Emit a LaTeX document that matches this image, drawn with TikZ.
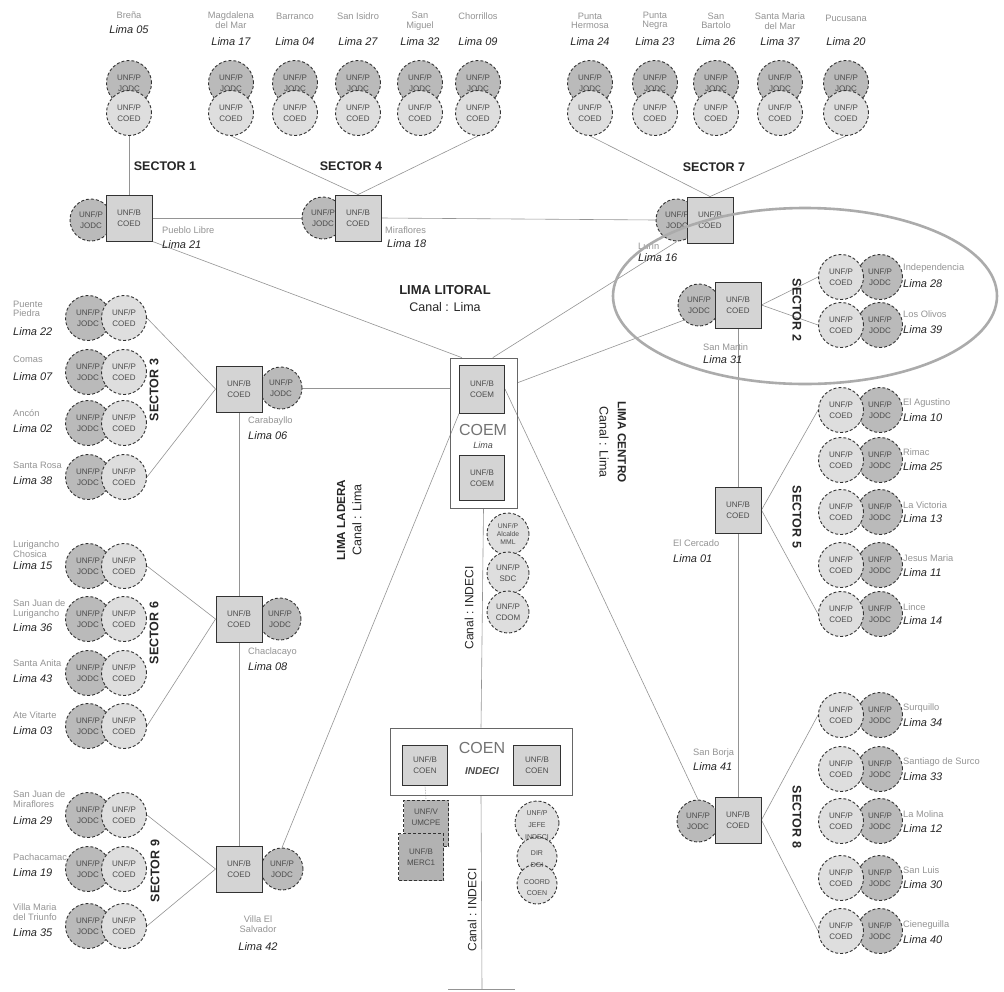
\documentclass[tikz,border=0pt]{standalone}
\usepackage{fontspec}
\setmainfont{Liberation Sans}
\usetikzlibrary{backgrounds}
\tikzset{
  circ/.style={circle, draw=black!80, densely dashed, line width=0.9pt, minimum size=45pt, inner sep=0pt, align=center, font=\fontsize{8}{10.5}\selectfont, text=black!70},
  jodc/.style={circ, fill=black!27},
  coed/.style={circ, fill=black!13},
  hubsq/.style={rectangle, draw=black!80, line width=0.9pt, fill=black!17, minimum width=46pt, minimum height=46pt, inner sep=0pt, align=center, font=\fontsize{8}{10.5}\selectfont, text=black!70},
  darksq/.style={hubsq, fill=black!30, densely dashed},
  circtext/.style={align=center, inner sep=0pt, font=\fontsize{7}{12}\selectfont, text=black!70},
  link/.style={draw=black!42, line width=0.6pt},
  place/.style={font=\fontsize{9.3}{9.5}\selectfont, text=black!42, align=center, inner sep=0pt},
  lima/.style={font=\fontsize{11}{12}\selectfont\itshape, text=black!85, inner sep=0pt},
  sect/.style={font=\fontsize{12.5}{14}\selectfont\bfseries, text=black!85, inner sep=0pt},
  bigbold/.style={font=\fontsize{12}{14}\selectfont\bfseries, text=black!85, inner sep=0pt},
  canal/.style={font=\fontsize{12.5}{14}\selectfont, text=black!85, inner sep=0pt},
  box/.style={draw=black!60, line width=0.7pt, inner sep=0pt},
}
\newcommand{\toppair}[2]{%
  \node[jodc] (#1j) at (#2,83) {UNF/P\\JODC};
  \node[coed] (#1c) at (#2,113) {UNF/P\\COED};}
\newcommand{\lpair}[2]{%
  \node[jodc] (#1j) at (88,#2) {UNF/P\\JODC};
  \node[coed] (#1c) at (124,#2) {UNF/P\\COED};}
\newcommand{\rpair}[2]{%
  \node[jodc] (#1j) at (880,#2) {UNF/P\\JODC};
  \node[coed] (#1c) at (841,#2) {UNF/P\\COED};}
\newcommand{\llab}[5]{%
  \node[place, anchor=west, align=left] (#1N) at (13,#2) {#4};
  \node[lima, anchor=west] (#1L) at (13,#3) {#5};}
\newcommand{\rlab}[5]{%
  \node[place, anchor=west, align=left] (#1N) at (903,#2) {#4};
  \node[lima, anchor=west] (#1L) at (903,#3) {#5};}
\begin{document}
\begin{tikzpicture}[x=1pt,y=-1pt]
\useasboundingbox (0,0) rectangle (1004,991);

% ---------------- top row ----------------
\toppair{bre}{129}
\toppair{mag}{231}
\toppair{bar}{295}
\toppair{sis}{358}
\toppair{smi}{420}
\toppair{cho}{478}
\toppair{phe}{590}
\toppair{pne}{655}
\toppair{sba}{716}
\toppair{smm}{780}
\toppair{puc}{846}

\node[place] (breN) at (129,15) {Breña};
\node[lima] (breL) at (129,30) {Lima 05};
\node[place] (magN) at (231,20) {Magdalena\\del Mar};
\node[lima] (magL) at (231,42) {Lima 17};
\node[place] (barN) at (295,16) {Barranco};
\node[lima] (barL) at (295,42) {Lima 04};
\node[place] (sisN) at (358,16) {San Isidro};
\node[lima] (sisL) at (358,42) {Lima 27};
\node[place] (smiN) at (420,21) {San\\Miguel};
\node[lima] (smiL) at (420,42) {Lima 32};
\node[place] (choN) at (478,16) {Chorrillos};
\node[lima] (choL) at (478,42) {Lima 09};
\node[place] (pheN) at (590,21) {Punta\\Hermosa};
\node[lima] (pheL) at (590,42) {Lima 24};
\node[place] (pneN) at (655,21) {Punta\\Negra};
\node[lima] (pneL) at (655,42) {Lima 23};
\node[place] (sbaN) at (716,21) {San\\Bartolo};
\node[lima] (sbaL) at (716,42) {Lima 26};
\node[place] (smmN) at (780,21) {Santa Maria\\del Mar};
\node[lima] (smmL) at (780,42) {Lima 37};
\node[place] (pucN) at (846,18) {Pucusana};
\node[lima] (pucL) at (846,42) {Lima 20};

\node[sect] (sec1) at (165,166) {SECTOR 1};
\node[sect] (sec4) at (351,166) {SECTOR 4};
\node[sect] (sec7) at (714,167) {SECTOR 7};

% hubs of the top sectors
\node[jodc, minimum size=42pt] (s1j) at (91,220) {UNF/P\\JODC};
\node[hubsq] (s1) at (129,218) {UNF/B\\COED};
\node[place, anchor=west] (s1N) at (162,230) {Pueblo Libre};
\node[lima, anchor=west] (s1L) at (162,245) {Lima 21};

\node[jodc, minimum size=42pt] (s4j) at (323,218) {UNF/P\\JODC};
\node[hubsq] (s4) at (358,218) {UNF/B\\COED};
\node[place, anchor=west] (s4N) at (385,230) {Miraflores};
\node[lima, anchor=west] (s4L) at (387,244) {Lima 18};

\node[jodc, minimum size=42pt] (s7j) at (677,220) {UNF/P\\JODC};
\node[hubsq] (s7) at (710,220) {UNF/B\\COED};
\node[place, anchor=west] (s7N) at (638,246) {Lurín};
\node[lima, anchor=west] (s7L) at (638,258) {Lima 16};

\node[bigbold, font=\fontsize{13}{15}\selectfont\bfseries] (lit) at (445,290) {LIMA LITORAL};
\node[canal] (litc) at (445,307) {Canal : Lima};

% ---------------- sector 2 ----------------
\node[jodc, minimum size=42pt] (s2j) at (699,305) {UNF/P\\JODC};
\node[hubsq] (s2) at (738,305) {UNF/B\\COED};
\node[place, anchor=west] (s2N) at (703,347) {San Martin};
\node[lima, anchor=west] (s2L) at (703,360) {Lima 31};
\node[sect, rotate=-90] (sec2) at (797,310) {SECTOR 2};
\rpair{ind}{277}
\rpair{oli}{325}
\rlab{ind}{268}{284}{Independencia}{Lima 28}
\rlab{oli}{314}{330}{Los Olivos}{Lima 39}

% ---------------- sector 5 ----------------
\node[hubsq] (s5) at (738,510) {UNF/B\\COED};
\node[place, anchor=west] (s5N) at (673,543) {El Cercado};
\node[lima, anchor=west] (s5L) at (673,559) {Lima 01};
\node[sect, rotate=-90] (sec5) at (797,517) {SECTOR 5};
\rpair{agu}{410}
\rpair{rim}{460}
\rpair{vic}{512}
\rpair{jes}{565}
\rpair{lin}{614}
\rlab{agu}{403}{418}{El Agustino}{Lima 10}
\rlab{rim}{452}{467}{Rimac}{Lima 25}
\rlab{vic}{505}{519}{La Victoria}{Lima 13}
\rlab{jes}{558}{573}{Jesus Maria}{Lima 11}
\rlab{lin}{607}{621}{Lince}{Lima 14}

% ---------------- sector 8 ----------------
\node[jodc, minimum size=42pt] (s8j) at (698,821) {UNF/P\\JODC};
\node[hubsq] (s8) at (738,820) {UNF/B\\COED};
\node[place, anchor=west] (s8N) at (693,753) {San Borja};
\node[lima, anchor=west] (s8L) at (693,767) {Lima 41};
\node[sect, rotate=-90] (sec8) at (797,817) {SECTOR 8};
\rpair{sur}{715}
\rpair{ssu}{769}
\rpair{mol}{821}
\rpair{slu}{878}
\rpair{cie}{931}
\rlab{sur}{708}{723}{Surquillo}{Lima 34}
\rlab{ssu}{762}{777}{Santiago de Surco}{Lima 33}
\rlab{mol}{814}{829}{La Molina}{Lima 12}
\rlab{slu}{870}{885}{San Luis}{Lima 30}
\rlab{cie}{925}{940}{Cieneguilla}{Lima 40}

% ---------------- sector 3 ----------------
\lpair{pp}{318}
\lpair{com}{372}
\lpair{anc}{423}
\lpair{sro}{477}
\llab{pp}{309}{332}{Puente\\Piedra}{Lima 22}
\llab{com}{359}{377}{Comas}{Lima 07}
\llab{anc}{413}{429}{Ancón}{Lima 02}
\llab{sro}{465}{481}{Santa Rosa}{Lima 38}
\node[jodc, minimum size=42pt] (s3j) at (281,388) {UNF/P\\JODC};
\node[hubsq] (s3) at (239,389) {UNF/B\\COED};
\node[place, anchor=west] (s3N) at (248,421) {Carabayllo};
\node[lima, anchor=west] (s3L) at (248,436) {Lima 06};
\node[sect, rotate=90] (sec3) at (154,390) {SECTOR 3};

% ---------------- sector 6 ----------------
\lpair{lch}{566}
\lpair{sjl}{619}
\lpair{san}{673}
\lpair{ate}{726}
\llab{lch}{549}{566}{Lurigancho\\Chosica}{Lima 15}
\llab{sjl}{609}{628}{San Juan de\\Lurigancho}{Lima 36}
\llab{san}{663}{679}{Santa Anita}{Lima 43}
\llab{ate}{715}{731}{Ate Vitarte}{Lima 03}
\node[jodc, minimum size=42pt] (s6j) at (280,619) {UNF/P\\JODC};
\node[hubsq] (s6) at (239,619) {UNF/B\\COED};
\node[place, anchor=west] (s6N) at (248,652) {Chaclacayo};
\node[lima, anchor=west] (s6L) at (248,667) {Lima 08};
\node[sect, rotate=90] (sec6) at (154,633) {SECTOR 6};

% ---------------- sector 9 ----------------
\lpair{sjm}{815}
\lpair{pac}{869}
\lpair{vmt}{926}
\llab{sjm}{799}{821}{San Juan de\\Miraflores}{Lima 29}
\llab{pac}{857}{873}{Pachacamac}{Lima 19}
\llab{vmt}{912}{933}{Villa Maria\\del Triunfo}{Lima 35}
\node[jodc, minimum size=42pt] (s9j) at (282,869) {UNF/P\\JODC};
\node[hubsq] (s9) at (239,869) {UNF/B\\COED};
\node[place] (s9N) at (258,924) {Villa El\\Salvador};
\node[lima] (s9L) at (258,947) {Lima 42};
\node[sect, rotate=90] (sec9) at (155,871) {SECTOR 9};

% ---------------- COEM ----------------
\node[box, minimum width=67pt, minimum height=150pt] (coem) at (483.5,433) {};
\node[hubsq, minimum width=45pt, minimum height=48pt] (coem1) at (482,389) {UNF/B\\COEM};
\node[font=\fontsize{16}{18}\selectfont, text=black!55, inner sep=0pt] (coemT) at (483,430) {COEM};
\node[font=\fontsize{9}{10}\selectfont\itshape, text=black!70, inner sep=0pt] (coemL) at (483,445) {Lima};
\node[hubsq, minimum width=45pt, minimum height=45pt] (coem2) at (482,478) {UNF/B\\COEM};

\node[coed, minimum size=42pt, font=\fontsize{6.8}{8}\selectfont] (alc) at (508,534) {UNF/P\\Alcalde\\MML};
\node[coed, minimum size=42pt] (sdc) at (508,573) {UNF/P\\SDC};
\node[coed, minimum size=42pt] (cdo) at (508,612) {UNF/P\\CDOM};

\node[canal, font=\fontsize{12}{14}\selectfont, rotate=90] (ci1) at (469,608) {Canal : INDECI};

\node[bigbold, font=\fontsize{11.7}{14}\selectfont\bfseries, rotate=90] (lad) at (341,520) {LIMA LADERA};
\node[canal, rotate=90] (ladc) at (357,520) {Canal : Lima};
\node[bigbold, font=\fontsize{11.7}{14}\selectfont\bfseries, rotate=-90] (cen) at (622,442) {LIMA CENTRO};
\node[canal, rotate=-90] (cenc) at (604,442) {Canal : Lima};

% ---------------- COEN ----------------
\node[box, minimum width=182pt, minimum height=67pt] (coen) at (481,761.5) {};
\node[hubsq, minimum width=45pt, minimum height=40pt] (coen1) at (425,765) {UNF/B\\COEN};
\node[hubsq, minimum width=47pt, minimum height=40pt] (coen2) at (537,765) {UNF/B\\COEN};
\node[font=\fontsize{16}{18}\selectfont, text=black!55, inner sep=0pt] (coenT) at (482,748) {COEN};
\node[font=\fontsize{10}{12}\selectfont\bfseries\itshape, text=black!70, inner sep=0pt] (coenI) at (482,771) {INDECI};

\node[darksq, minimum width=45pt, minimum height=46pt, text depth=12pt] (umc) at (426,823) {UNF/V\\UMCPE};
\node[darksq, minimum width=45pt, minimum height=47pt] (mer) at (421,857) {UNF/B\\MERC1};

\node[coed, minimum size=44pt] (jef) at (537,823) {};
\node[coed, minimum size=40pt] (dir) at (537,857) {};
\node[coed, minimum size=40pt] (cor) at (537,884) {};
\node[circtext] (jefT) at (537,825) {UNF/P\\JEFE\\INDECI};
\node[circtext] (dirT) at (537,859) {DIR\\DGI};
\node[circtext, font=\fontsize{7}{11}\selectfont] (corT) at (537,888) {COORD\\COEN};

\node[canal, font=\fontsize{12}{14}\selectfont, rotate=90] (ci2) at (472,910) {Canal : INDECI};
\coordinate (bot) at (482,989);
\coordinate (botL) at (448,989);
\coordinate (botR) at (515,989);

% ---------------- connectors ----------------
\begin{pgfonlayer}{background}
\fill[white] (0,0) rectangle (1004,991);
\draw[link] (brec.south) -- (s1.north);
\draw[link] (magc.south) -- (s4.north);
\draw[link] (choc.south) -- (s4.north);
\draw[link] (phec.south) -- (s7.north);
\draw[link] (pucc.south) -- (s7.north);
\draw[link] (s1.east) -- (s4j.west);
\draw[link] (s4.east) -- (s7j.west);
\draw[link] (s1.south east) -- (coem.106);
\draw[link] (s7j.south) -- (coem.83);
\draw[link] (s2j.south west) -- (coem.56);
\draw[link] (s2.east) -- (indc.west);
\draw[link] (s2.east) -- (olic.west);
\draw[link] (s2.south) -- (s5.north);
\draw[link] (s5.south) -- (s8.north);
\draw[link] (s5.east) -- (aguc.west);
\draw[link] (s5.east) -- (linc.west);
\draw[link] (s8.east) -- (surc.west);
\draw[link] (s8.east) -- (ciec.west);
\draw[link] (coem1.east) -- (s8j.north);
\draw[link] (coem1.south west) -- (s9j.north);
\draw[link] (s3j.east) -- (s3j.east -| coem.west);
\draw[link] (s3.west) -- (ppc.east);
\draw[link] (s3.west) -- (sroc.east);
\draw[link] (s3.south) -- (s6.north);
\draw[link] (s6.south) -- (s9.north);
\draw[link] (s6.west) -- (lchc.east);
\draw[link] (s6.west) -- (atec.east);
\draw[link] (s9.west) -- (sjmc.east);
\draw[link] (s9.west) -- (vmtc.east);
\draw[link] (coem.south) -- (coen.north);
\draw[link] (coen.south) -- (bot);
\draw[link] (botL) -- (botR);
\draw[link, densely dotted] (coen1.south) -- (umc.north);
\end{pgfonlayer}

% highlight ellipse
\draw[black!33, line width=2.6pt] (805,296) ellipse [x radius=192, y radius=88];
\end{tikzpicture}
\end{document}
